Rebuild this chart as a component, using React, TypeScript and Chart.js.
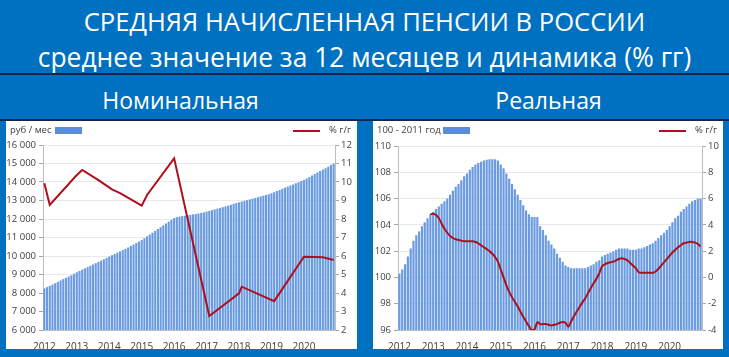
import React, { useEffect, useRef } from 'react';
import { Chart, registerables } from 'chart.js';

Chart.register(...registerables);

const YEARS = ['2012', '2013', '2014', '2015', '2016', '2017', '2018', '2019', '2020'];
const CATEGORIES = YEARS.flatMap((y) =>
  Array.from({ length: 12 }, (_, i) => `${y}-${String(i + 1).padStart(2, '0')}`)
);

// Nominal average pension, rub / month (12-month average), monthly 2012-2020
const NOMINAL_PENSION = [
  8250, 8320, 8390, 8460, 8530, 8600, 8680, 8750, 8820, 8890, 8960, 9040,
  9120, 9190, 9260, 9330, 9400, 9470, 9540, 9610, 9680, 9750, 9820, 9900,
  9970, 10040, 10110, 10180, 10250, 10320, 10390, 10460, 10540, 10620, 10700, 10780,
  10860, 10960, 11060, 11160, 11260, 11360, 11460, 11560, 11660, 11760, 11860, 11960,
  12050, 12100, 12130, 12160, 12180, 12200, 12220, 12250, 12270, 12300, 12330, 12360,
  12400, 12440, 12480, 12520, 12560, 12600, 12640, 12680, 12720, 12770, 12820, 12860,
  12900, 12940, 12980, 13020, 13060, 13100, 13140, 13180, 13220, 13260, 13300, 13340,
  13390, 13450, 13510, 13570, 13630, 13690, 13750, 13810, 13870, 13930, 13990, 14050,
  14110, 14190, 14270, 14350, 14430, 14510, 14590, 14670, 14750, 14830, 14920, 15000,
];

// Nominal % y/y (right axis): months where the line bends, and values there
const NOMINAL_YOY_MONTHS = [
  '2012-01', '2012-03', '2013-01', '2013-03', '2013-09', '2014-02', '2014-05',
  '2015-01', '2015-03', '2016-01', '2017-02', '2018-01', '2018-02', '2019-02',
  '2020-01', '2020-08', '2020-12',
];
const NOMINAL_YOY = [
  9.93, 8.76, 10.38, 10.65, 10.1, 9.6, 9.4,
  8.72, 9.3, 11.28, 2.76, 3.98, 4.34, 3.56,
  5.96, 5.93, 5.78,
];

// Real pension index, 100 = 2011
const REAL_PENSION = [
  100.3, 100.6, 101.0, 101.6, 102.2, 102.8, 103.2, 103.5, 103.9, 104.2, 104.5, 104.8,
  105.0, 105.2, 105.4, 105.6, 105.8, 106.0, 106.3, 106.6, 106.9, 107.1, 107.4, 107.7,
  107.9, 108.2, 108.4, 108.6, 108.7, 108.8, 108.9, 108.95, 109.0, 109.0, 109.0, 108.9,
  108.6, 108.3, 107.9, 107.5, 107.1, 106.7, 106.3, 105.9, 105.5, 105.1, 104.8, 104.6,
  104.6, 104.6, 103.9, 103.6, 103.2, 102.8, 102.5, 102.2, 101.8, 101.5, 101.2, 100.9,
  100.8, 100.7, 100.7, 100.7, 100.7, 100.7, 100.7, 100.8, 100.9, 101.0, 101.2, 101.3,
  101.6, 101.7, 101.8, 101.9, 102.0, 102.1, 102.2, 102.2, 102.2, 102.2, 102.1, 102.1,
  102.1, 102.2, 102.2, 102.3, 102.4, 102.5, 102.6, 102.8, 103.0, 103.2, 103.4, 103.6,
  103.9, 104.2, 104.5, 104.7, 105.0, 105.2, 105.4, 105.6, 105.8, 105.9, 106.0, 106.0,
];

// Real % y/y (right axis), monthly; no data before Dec 2012
const REAL_YOY = [
  null, null, null, null, null, null, null, null, null, null, null, 4.8,
  4.85, 4.75, 4.5, 4.1, 3.7, 3.4, 3.15, 3.0, 2.9, 2.85, 2.8, 2.75,
  2.75, 2.75, 2.75, 2.7, 2.6, 2.45, 2.3, 2.15, 2.0, 1.8, 1.55, 1.2,
  0.6, 0.0, -0.6, -1.1, -1.5, -1.85, -2.2, -2.6, -3.0, -3.35, -3.7, -4.0,
  -3.95, -3.4, -3.55, -3.55, -3.55, -3.6, -3.65, -3.6, -3.55, -3.45, -3.4, -3.45,
  -3.75, -3.35, -2.95, -2.6, -2.25, -1.9, -1.6, -1.2, -0.8, -0.45, -0.1, 0.3,
  0.85, 1.0, 1.1, 1.15, 1.2, 1.3, 1.4, 1.45, 1.4, 1.3, 1.1, 0.9,
  0.7, 0.4, 0.35, 0.35, 0.35, 0.35, 0.35, 0.45, 0.65, 0.9, 1.15, 1.4,
  1.65, 1.9, 2.1, 2.3, 2.45, 2.6, 2.65, 2.7, 2.7, 2.65, 2.55, 2.35,
];

const TITLE_1 = 'СРЕДНЯЯ НАЧИСЛЕННАЯ ПЕНСИИ В РОССИИ';
const TITLE_2 = 'среднее значение за 12 месяцев и динамика (% гг)';

const BLUE_BG = '#0070c0';
const BAR_COLOR = '#6a9be0';
const LINE_COLOR = '#ad101c';
const TICK_COLOR = '#404040';
const FONT = "'Open Sans', 'Liberation Sans', sans-serif";

const fmtThousands = (v: number) => String(v).replace(/\B(?=(\d{3})+(?!\d))/g, ' ');

type PanelProps = {
  left: number;
  width: number;
  bars: number[];
  line: any[];
  yMin: number;
  yMax: number;
  yStep: number;
  y1Min: number;
  y1Max: number;
  y1Step: number;
  yWidth: number;
  y1Width: number;
  topPad: number;
  thousands: boolean;
  unitLabel: string;
  boxLeft: number;
  tension: number;
};

function Panel(p: PanelProps) {
  const ref = useRef<HTMLCanvasElement | null>(null);
  const H = 228;
  useEffect(() => {
    if (!ref.current) return;
    const chart = new Chart(ref.current, {
      type: 'bar',
      data: {
        labels: CATEGORIES,
        datasets: [
          {
            type: 'line',
            data: p.line,
            yAxisID: 'y1',
            borderColor: LINE_COLOR,
            borderWidth: 2,
            pointRadius: 0,
            spanGaps: true,
            tension: p.tension,
            order: 0,
          } as any,
          {
            type: 'bar',
            data: p.bars,
            yAxisID: 'y',
            backgroundColor: BAR_COLOR,
            borderWidth: 0,
            barPercentage: 0.78,
            categoryPercentage: 1,
            order: 1,
          },
        ],
      },
      options: {
        responsive: false,
        animation: false,
        devicePixelRatio: 1,
        layout: { padding: { top: p.topPad, left: 0, right: 0, bottom: 0 } },
        plugins: { legend: { display: false }, tooltip: { enabled: false } },
        scales: {
          x: {
            type: 'category',
            grid: { display: false },
            border: { display: true, color: '#bfbfbf' },
            ticks: {
              autoSkip: false,
              maxRotation: 0,
              minRotation: 0,
              padding: 3,
              color: TICK_COLOR,
              font: { family: FONT, size: 10 },
              callback: (_v: any, i: number) => (i % 12 === 0 ? YEARS[i / 12] : ''),
            },
            afterFit: (s: any) => {
              s.height = 19;
            },
          },
          y: {
            position: 'left',
            min: p.yMin,
            max: p.yMax,
            grid: { color: '#e9e9e9', tickColor: '#a6a6a6', tickLength: 4 },
            border: { display: true, color: '#bfbfbf' },
            ticks: {
              stepSize: p.yStep,
              padding: 3,
              color: TICK_COLOR,
              font: { family: FONT, size: 9.5 },
              callback: (v: any) => (p.thousands ? fmtThousands(v) : String(v)),
            },
            afterFit: (s: any) => {
              s.width = p.yWidth;
            },
          },
          y1: {
            position: 'right',
            min: p.y1Min,
            max: p.y1Max,
            grid: { drawOnChartArea: false, tickColor: '#a6a6a6', tickLength: 4 },
            border: { display: true, color: '#bfbfbf' },
            ticks: {
              stepSize: p.y1Step,
              padding: 2,
              color: TICK_COLOR,
              font: { family: FONT, size: 9.5 },
            },
            afterFit: (s: any) => {
              s.width = p.y1Width;
            },
          },
        },
      } as any,
    });
    return () => chart.destroy();
  }, []);

  const textStyle: React.CSSProperties = {
    position: 'absolute',
    fontFamily: FONT,
    fontSize: 9.5,
    color: '#404040',
    top: 3,
    lineHeight: '12px',
    whiteSpace: 'nowrap',
  };
  return (
    <div
      style={{
        position: 'absolute',
        left: p.left,
        top: 121,
        width: p.width,
        height: H,
        background: '#ffffff',
      }}
    >
      <canvas ref={ref} width={p.width} height={H} style={{ position: 'absolute', left: 0, top: 0 }} />
      <div style={{ ...textStyle, left: 4 }}>{p.unitLabel}</div>
      <div
        style={{
          position: 'absolute',
          left: p.boxLeft,
          top: 6,
          width: 27,
          height: 7,
          background: '#5b8ed8',
        }}
      />
      <div
        style={{
          position: 'absolute',
          left: p.width - 64,
          top: 9,
          width: 27,
          height: 2,
          background: LINE_COLOR,
        }}
      />
      <div style={{ ...textStyle, left: p.width - 28 }}>% г/г</div>
    </div>
  );
}

export default function App() {
  return (
    <div
      style={{
        position: 'fixed',
        left: 0,
        top: 0,
        width: 729,
        height: 357,
        background: BLUE_BG,
        overflow: 'hidden',
        fontFamily: FONT,
      }}
    >
      <div
        style={{
          position: 'absolute',
          left: 0,
          width: 729,
          top: 4,
          textAlign: 'center',
          color: '#fff',
          fontSize: 25.6,
          lineHeight: '36px',
          whiteSpace: 'nowrap',
        }}
      >
        {TITLE_1}
      </div>
      <div
        style={{
          position: 'absolute',
          left: 0,
          width: 729,
          top: 39,
          textAlign: 'center',
          color: '#fff',
          fontSize: 26.4,
          lineHeight: '36px',
          whiteSpace: 'nowrap',
        }}
      >
        {TITLE_2}
      </div>
      <div style={{ position: 'absolute', left: 0, top: 73, width: 729, height: 2, background: '#1a2340' }} />
      <div
        style={{
          position: 'absolute',
          left: 0,
          width: 361,
          top: 85,
          textAlign: 'center',
          color: '#fff',
          fontSize: 23,
          lineHeight: '30px',
        }}
      >
        Номинальная
      </div>
      <div
        style={{
          position: 'absolute',
          left: 368,
          width: 361,
          top: 85,
          textAlign: 'center',
          color: '#fff',
          fontSize: 23,
          lineHeight: '30px',
        }}
      >
        Реальная
      </div>
      <div style={{ position: 'absolute', left: 0, top: 119, width: 729, height: 2, background: '#1a2340' }} />
      <Panel
        left={6}
        width={351}
        bars={NOMINAL_PENSION}
        line={NOMINAL_YOY_MONTHS.map((m, i) => ({ x: m, y: NOMINAL_YOY[i] }))}
        yMin={6000}
        yMax={16000}
        yStep={1000}
        y1Min={2}
        y1Max={12}
        y1Step={1}
        yWidth={37}
        y1Width={22}
        topPad={24}
        thousands={true}
        unitLabel="руб / мес"
        boxLeft={49}
        tension={0}
      />
      <Panel
        left={373}
        width={350}
        bars={REAL_PENSION}
        line={REAL_YOY}
        yMin={96}
        yMax={110}
        yStep={2}
        y1Min={-4}
        y1Max={10}
        y1Step={2}
        yWidth={25}
        y1Width={21}
        topPad={25}
        thousands={false}
        unitLabel="100 - 2011 год"
        boxLeft={70}
        tension={0.3}
      />
    </div>
  );
}
